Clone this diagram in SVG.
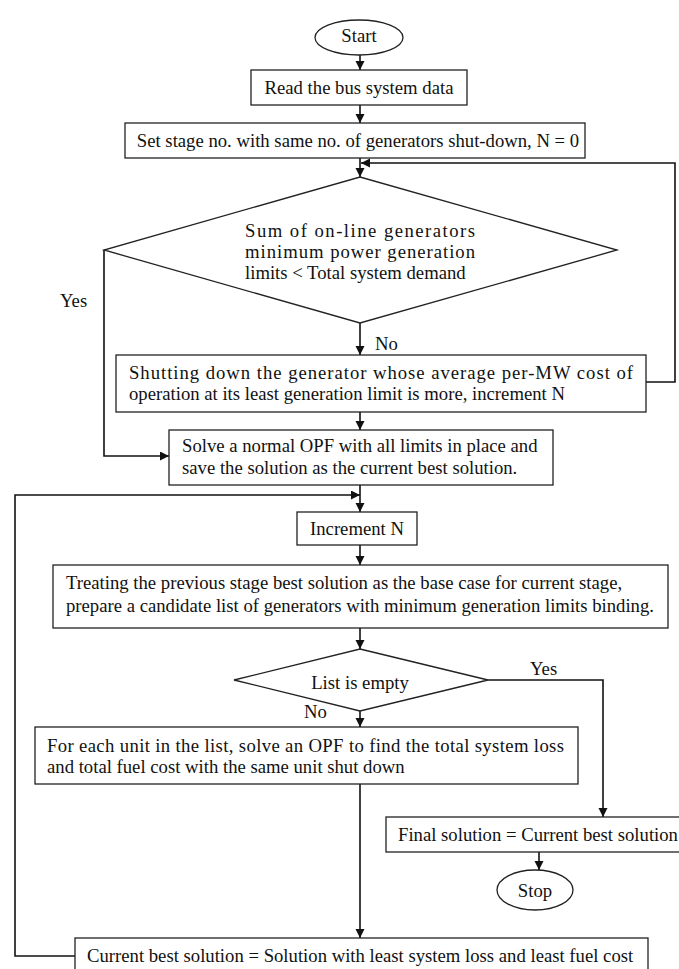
<svg xmlns="http://www.w3.org/2000/svg" width="679" height="969" viewBox="0 0 679 969">
<style>
.box{fill:#fff;stroke:#222;stroke-width:1.3}
.t{font-family:"Liberation Serif","Times New Roman",serif;font-size:18.7px;fill:#111}
.c{text-anchor:middle}
.ln{fill:none;stroke:#111;stroke-width:1.6}
</style>
<defs>
<marker id="ah" markerUnits="userSpaceOnUse" markerWidth="10" markerHeight="10" refX="9" refY="4.5" orient="auto">
<path d="M0,0 L9,4.5 L0,9 Z" fill="#111"/>
</marker>
</defs>
<rect width="679" height="969" fill="#fff"/>
<g id="connectors">
<line class="ln" x1="360" y1="55" x2="360" y2="70" marker-end="url(#ah)"/>
<line class="ln" x1="360" y1="105" x2="360" y2="123" marker-end="url(#ah)"/>
<line class="ln" x1="360" y1="158" x2="360" y2="177" marker-end="url(#ah)"/>
<polyline class="ln" points="646,382 675,382 675,163 361,163" marker-end="url(#ah)"/>
<line class="ln" x1="360" y1="323" x2="360" y2="355" marker-end="url(#ah)"/>
<line class="ln" x1="360" y1="412" x2="360" y2="430" marker-end="url(#ah)"/>
<polyline class="ln" points="104,250 104,456 169,456" marker-end="url(#ah)"/>
<line class="ln" x1="360" y1="485" x2="360" y2="512" marker-end="url(#ah)"/>
<polyline class="ln" points="75,956 15,956 15,495 360,495" marker-end="url(#ah)"/>
<line class="ln" x1="360" y1="545" x2="360" y2="565" marker-end="url(#ah)"/>
<line class="ln" x1="360" y1="628" x2="360" y2="649" marker-end="url(#ah)"/>
<polyline class="ln" points="488,680 603,680 603,817" marker-end="url(#ah)"/>
<line class="ln" x1="360" y1="711" x2="360" y2="727" marker-end="url(#ah)"/>
<line class="ln" x1="360" y1="784" x2="360" y2="938" marker-end="url(#ah)"/>
<line class="ln" x1="539" y1="852" x2="539" y2="870" marker-end="url(#ah)"/>
<text class="t" x="60" y="307">Yes</text>
<text class="t" x="375" y="350">No</text>
<text class="t" x="530" y="675">Yes</text>
<text class="t" x="304" y="718">No</text>
</g>
<g id="start">
<ellipse class="box" cx="359" cy="37.5" rx="44" ry="17.5"/>
<text class="t c" x="359" y="42">Start</text>
</g>
<g id="read">
<rect class="box" x="251" y="70" width="216" height="35"/>
<text class="t c" x="359" y="94">Read the bus system data</text>
</g>
<g id="setstage">
<rect class="box" x="125" y="123" width="460" height="35"/>
<text class="t c" x="358" y="147">Set stage no. with same no. of generators shut-down, N = 0</text>
</g>
<g id="decision1">
<polygon class="box" points="360,177 617,250 360,323 104,250"/>
<text class="t" x="245" y="237" textLength="230" lengthAdjust="spacing">Sum of on-line generators</text>
<text class="t" x="245" y="258" textLength="230" lengthAdjust="spacing">minimum power generation</text>
<text class="t" x="245" y="279">limits &lt; Total system demand</text>
</g>
<g id="shutdown">
<rect class="box" x="116" y="355" width="530" height="57"/>
<text class="t" x="129" y="379" textLength="504" lengthAdjust="spacing">Shutting down the generator whose average per-MW cost of</text>
<text class="t" x="129" y="400">operation at its least generation limit is more, increment N</text>
</g>
<g id="solve">
<rect class="box" x="169" y="430" width="384" height="55"/>
<text class="t" x="182" y="452">Solve a normal OPF with all limits in place and</text>
<text class="t" x="182" y="474">save the solution as the current best solution.</text>
</g>
<g id="increment">
<rect class="box" x="297" y="512" width="120" height="33"/>
<text class="t c" x="357" y="535">Increment N</text>
</g>
<g id="treating">
<rect class="box" x="53" y="565" width="615" height="63"/>
<text class="t" x="66" y="589">Treating the previous stage best solution as the base case for current stage,</text>
<text class="t" x="66" y="612">prepare a candidate list of generators with minimum generation limits binding.</text>
</g>
<g id="decision2">
<polygon class="box" points="360,649 488,680 360,711 234,680"/>
<text class="t c" x="360" y="689">List is empty</text>
</g>
<g id="foreach">
<rect class="box" x="35" y="727" width="543" height="57"/>
<text class="t" x="47" y="752" textLength="517" lengthAdjust="spacing">For each unit in the list, solve an OPF to find the total system loss</text>
<text class="t" x="47" y="773">and total fuel cost with the same unit shut down</text>
</g>
<g id="final">
<rect class="box" x="386" y="817" width="300" height="35"/>
<text class="t" x="398" y="841">Final solution = Current best solution</text>
</g>
<g id="stop">
<ellipse class="box" cx="535" cy="890" rx="38" ry="20"/>
<text class="t c" x="535" y="897">Stop</text>
</g>
<g id="currentbest">
<rect class="box" x="75" y="938" width="573" height="40"/>
<text class="t" x="87" y="962">Current best solution = Solution with least system loss and least fuel cost</text>
</g>
</svg>
